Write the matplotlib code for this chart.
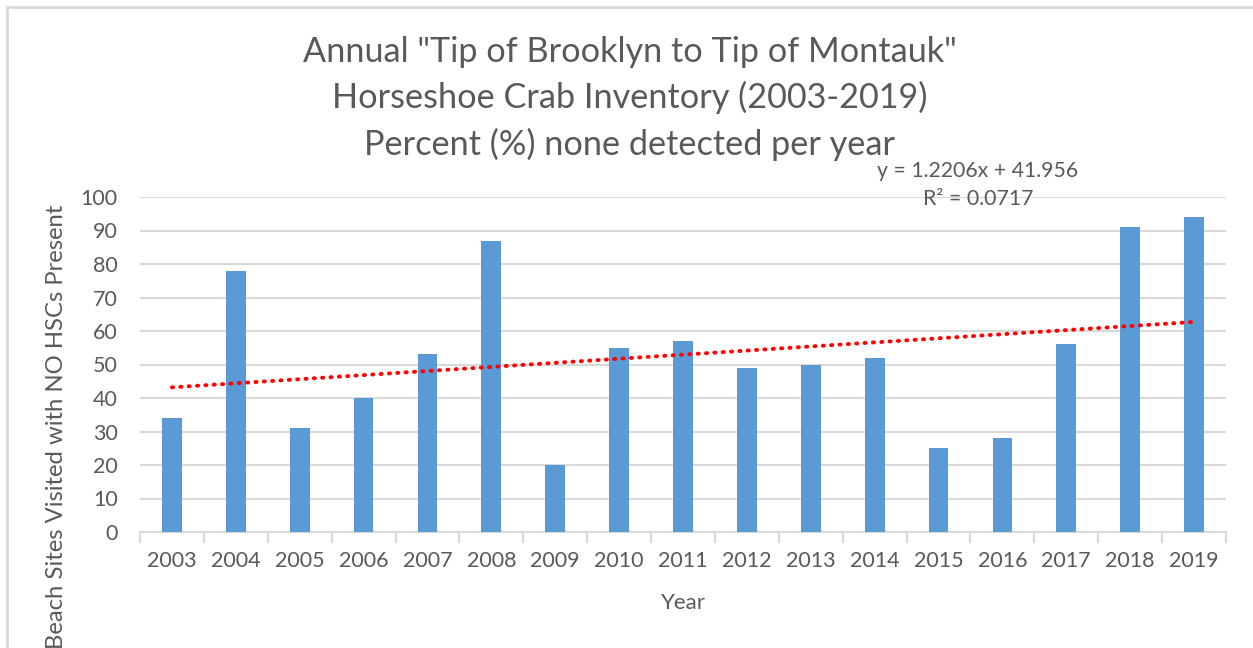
import numpy as np
import matplotlib
matplotlib.use('Agg')
import matplotlib.pyplot as plt
from matplotlib.patches import Rectangle

years = ['2003', '2004', '2005', '2006', '2007', '2008', '2009', '2010', '2011',
         '2012', '2013', '2014', '2015', '2016', '2017', '2018', '2019']
pct_none = [34, 78, 31, 40, 53, 87, 20, 55, 57, 49, 50, 52, 25, 28, 56, 91, 94]
title_lines = ['Annual "Tip of Brooklyn to Tip of Montauk"',
               'Horseshoe Crab Inventory (2003-2019)',
               'Percent (%) none detected per year']
trend_eq = 'y = 1.2206x + 41.956'
trend_r2 = 'R² = 0.0717'

plt.rcParams['font.family'] = ['Lato', 'DejaVu Sans']
txt = '#595959'
grid = '#D9D9D9'

W, H = 1253, 648
fig = plt.figure(figsize=(W / 100, H / 100), dpi=100)

# chart border (only top and left visible in the crop)
fig.patches.append(Rectangle((7 / W, -0.1), 1.2, (H - 7) / H + 0.1, transform=fig.transFigure,
                             fill=False, edgecolor=grid, lw=2))

x0, x1, y0, y1 = 140, 1226, 532, 197
ax = fig.add_axes([x0 / W, 1 - y0 / H, (x1 - x0) / W, (y0 - y1) / H])

x = np.arange(len(years))
ax.bar(x, pct_none, width=0.31, color='#5B9BD5', zorder=3)

# linear trendline (Excel style, x = 1..n)
k, b = np.polyfit(x + 1, pct_none, 1)
ax.plot(x, k * (x + 1) + b, color='#FF0000', lw=2.8, ls=(0, (0.3, 1.85)),
        dash_capstyle='round', zorder=4)

ax.set_xlim(-0.5, len(years) - 0.5)
ax.set_ylim(0, 100)
ax.set_yticks(range(0, 101, 10))
ax.yaxis.grid(True, color=grid, lw=1.5, zorder=0)
ax.set_xticks(x)
ax.set_xticklabels(years)
ax.set_xticks(np.arange(-0.5, len(years)), minor=True)
ax.tick_params(axis='x', which='major', length=0, pad=14, labelsize=15.5, labelcolor=txt)
ax.tick_params(axis='x', which='minor', length=8, width=1.5, color=grid)
ax.tick_params(axis='y', length=0, pad=16, labelsize=15.5, labelcolor=txt)
for s in ['top', 'right', 'left']:
    ax.spines[s].set_visible(False)
ax.spines['bottom'].set_color(grid)
ax.spines['bottom'].set_linewidth(1.5)

for i, line in enumerate(title_lines):
    fig.text(630 / W, 1 - (62 + 46.5 * i) / H, line, ha='center', va='baseline',
             fontsize=24.7, color=txt)
fig.text(683 / W, 1 - 603 / H, 'Year', ha='center', va='center', fontsize=16, color=txt)
fig.text(57 / W, 1 - 205 / H, 'Beach Sites Visited with NO HSCs Present', rotation=90,
         ha='center', va='top', fontsize=17.2, color=txt)
fig.text(978 / W, 1 - 171 / H, trend_eq, ha='center', va='center', fontsize=15.3, color=txt)
fig.text(978 / W, 1 - 199 / H, trend_r2, ha='center', va='center', fontsize=15.3, color=txt)

fig.savefig('out.png', dpi=100)
